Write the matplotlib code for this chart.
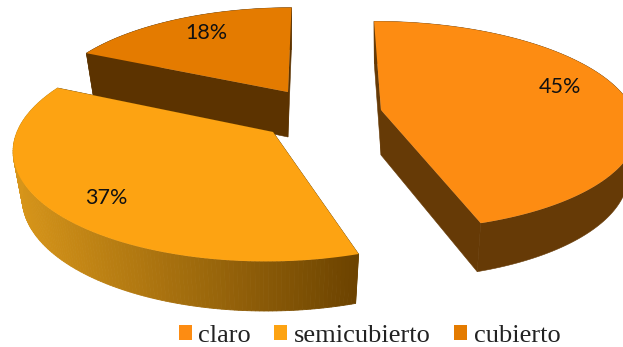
import matplotlib.pyplot as plt
from matplotlib.patches import Patch
import numpy as np

labels = ['claro', 'semicubierto', 'cubierto']
shares = [45, 37, 18]
colors = ['#FD8C12', '#FDA312', '#E47B00']
wall_colors = ['#663A06', None, '#5C3300']

# screen placement of each exploded slice: centre x, centre y, radius x, radius y, skew, height
slices = [
    (381, 110, 252, 102, -8, 45),
    (273, 132, 256, 110, 6, 46),
    (288, 92, 239, 97, 4, 45),
]
text_pos = [(560, 87), (106, 198), (206, 33)]
PERSP = 0.15
SHRINK = 0.965


def project(ang, r, place, bottom=False):
    cx, cy, a, b, skew, h = place
    u = r * np.sin(ang)
    v = r * np.cos(ang)
    w = 1 + PERSP * v
    x = (a * u + skew * v) / w
    y = -b * v / w
    if bottom:
        return cx + x * SHRINK, cy + y * SHRINK + h / w
    return cx + x, cy + y


def slice_outline(start, end, place, bottom=False):
    ang = np.linspace(start, end, 160)
    x, y = project(ang, 1.0, place, bottom)
    x0, y0 = project(0.0, 0.0, place, bottom)
    return np.r_[x0, x], np.r_[y0, y]


def hex_rgb(c):
    return np.array([int(c[i:i + 2], 16) for i in (1, 3, 5)]) / 255.0


def draw_slice(ax, start, end, place, color, wall):
    ax_top_x, ax_top_y = slice_outline(start, end, place)
    ax_bot_x, ax_bot_y = slice_outline(start, end, place, bottom=True)
    n = len(ax_top_x)
    # straight cut walls, then the curved wall
    for i, j in [(0, 1), (0, n - 1)]:
        xs = [ax_top_x[i], ax_top_x[j], ax_bot_x[j], ax_bot_x[i]]
        ys = [ax_top_y[i], ax_top_y[j], ax_bot_y[j], ax_bot_y[i]]
        ax.fill(xs, ys, color=wall if wall else '#704600', lw=0.4)
    if wall:
        ax.fill(np.r_[ax_top_x[1:], ax_bot_x[:0:-1]], np.r_[ax_top_y[1:], ax_bot_y[:0:-1]],
                color=wall, lw=0.4)
    else:
        # shaded wall, light on the left and dark on the right
        light = hex_rgb('#D8961A')
        dark = hex_rgb('#6C4300')
        for i in range(1, n - 1):
            xs = [ax_top_x[i], ax_top_x[i + 1], ax_bot_x[i + 1], ax_bot_x[i]]
            ys = [ax_top_y[i], ax_top_y[i + 1], ax_bot_y[i + 1], ax_bot_y[i]]
            t = np.clip((np.mean(xs) - 15) / 342.0, 0, 1)
            ax.fill(xs, ys, color=light + (dark - light) * t, lw=0.6)
    ax.fill(ax_top_x, ax_top_y, color=color, lw=0)


fig = plt.figure(figsize=(6.23, 3.47), dpi=100)
ax = fig.add_axes([0, 0, 1, 1])
ax.set_xlim(0, 623)
ax.set_ylim(347, 0)
ax.axis('off')

edges = np.r_[0, np.cumsum(shares)] / 100.0 * 2 * np.pi

# back slice first so the nearer ones cover it
for i in [2, 1, 0]:
    draw_slice(ax, edges[i], edges[i + 1], slices[i], colors[i], wall_colors[i])

for i in range(3):
    ax.text(text_pos[i][0], text_pos[i][1], '%d%%' % shares[i], family='Lato', fontsize=15.5,
            ha='center', va='center', color='#111111')

handles = [Patch(facecolor=c, lw=0) for c in colors]
ax.legend(handles, labels, ncol=3, frameon=False, loc='center', bbox_to_anchor=(369.5 / 623, 1 - 336 / 347),
          prop={'family': 'Liberation Serif', 'size': 19}, handlelength=0.5, handleheight=0.5,
          handletextpad=0.25, columnspacing=0.87, borderpad=0, labelcolor='#222222')

plt.savefig('out.png', dpi=100)
